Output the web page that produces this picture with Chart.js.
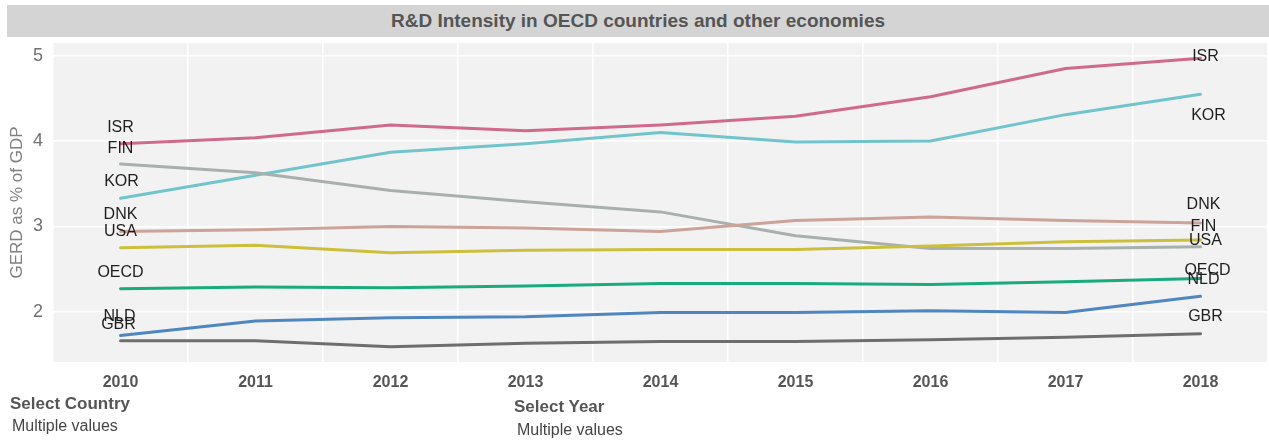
<!DOCTYPE html>
<html>
<head>
<meta charset="utf-8">
<script src="https://cdn.jsdelivr.net/npm/chart.js@4"></script>
<style>
  html, body { margin: 0; padding: 0; background: #ffffff; }
  #wrap { position: relative; width: 1269px; height: 441px; overflow: hidden; font-family: "Liberation Sans", Arial, sans-serif; }
  #titleband { position: absolute; left: 7px; top: 5px; width: 1262px; height: 32px; background: #d4d4d4; }
  #title { position: absolute; left: 0; width: 1276px; top: 5px; height: 32px; line-height: 32px; text-align: center; font-weight: bold; font-size: 19px; color: #555555; white-space: nowrap; }
  #chartbox { position: absolute; left: 0; top: 0; width: 1269px; height: 441px; }
  .ftitle { position: absolute; font-weight: bold; font-size: 17px; color: #555555; white-space: nowrap; }
  .fval { position: absolute; font-size: 16px; color: #444444; white-space: nowrap; }
</style>
</head>
<body>
<div id="wrap">
  <div id="titleband"></div>
  <div id="title">R&amp;D Intensity in OECD countries and other economies</div>
  <div id="chartbox"><canvas id="c"></canvas></div>
  <div class="ftitle" style="left:10px; top:394px;">Select Country</div>
  <div class="fval" style="left:12px; top:417px;">Multiple values</div>
  <div class="ftitle" style="left:514px; top:397px;">Select Year</div>
  <div class="fval" style="left:517px; top:421px;">Multiple values</div>
</div>
<script>
// ---- data ----
const years = ['2010', '2011', '2012', '2013', '2014', '2015', '2016', '2017', '2018'];
const yTicks = [2, 3, 4, 5];
const ISR  = [3.97, 4.04, 4.19, 4.12, 4.19, 4.29, 4.52, 4.85, 4.97];
const KOR  = [3.33, 3.60, 3.87, 3.97, 4.10, 3.99, 4.00, 4.31, 4.55];
const FIN  = [3.73, 3.63, 3.42, 3.29, 3.17, 2.89, 2.74, 2.74, 2.76];
const DNK  = [2.94, 2.96, 3.00, 2.98, 2.94, 3.07, 3.11, 3.07, 3.04];
const USA  = [2.75, 2.78, 2.69, 2.72, 2.73, 2.73, 2.77, 2.82, 2.84];
const OECD = [2.27, 2.29, 2.28, 2.30, 2.33, 2.33, 2.32, 2.35, 2.39];
const NLD  = [1.72, 1.89, 1.93, 1.94, 1.99, 1.99, 2.01, 1.99, 2.18];
const GBR  = [1.66, 1.66, 1.59, 1.63, 1.65, 1.65, 1.67, 1.70, 1.74];

const seriesNames = ['GBR', 'NLD', 'OECD', 'USA', 'DNK', 'FIN', 'KOR', 'ISR'];
const seriesData  = [GBR, NLD, OECD, USA, DNK, FIN, KOR, ISR];

// ---- styles ----
const colors = {
  ISR: '#cf6a8b', KOR: '#72c4cc', FIN: '#a7b0ac', DNK: '#cba399',
  USA: '#cbbf3c', OECD: '#19aa7e', NLD: '#4f86bf', GBR: '#6e6e6e'
};
// label placement relative to first / last point (pixels)
const startOffsets = { ISR: [0, -16], FIN: [0, -16], KOR: [1, -17], DNK: [0, -17], USA: [0, -16], OECD: [0, -16], NLD: [-1, -19], GBR: [-2, -16] };
const endOffsets   = { ISR: [5, -2], KOR: [8, 21], DNK: [3, -18], FIN: [3, -20], USA: [5, 1], OECD: [7, -8], NLD: [3, -17], GBR: [5, -17] };

const bgPlugin = {
  id: 'plotBg',
  beforeDraw(chart) {
    const a = chart.chartArea, ctx = chart.ctx;
    ctx.save();
    ctx.fillStyle = '#f2f2f2';
    ctx.fillRect(a.left, a.top, a.right - a.left, a.bottom - a.top);
    ctx.restore();
  }
};

const labelPlugin = {
  id: 'endLabels',
  afterDatasetsDraw(chart) {
    const ctx = chart.ctx;
    ctx.save();
    ctx.font = '16px "Liberation Sans", Arial, sans-serif';
    ctx.fillStyle = '#1e1e1e';
    ctx.textAlign = 'center';
    ctx.textBaseline = 'middle';
    chart.data.datasets.forEach((ds, i) => {
      const meta = chart.getDatasetMeta(i);
      const first = meta.data[0], last = meta.data[meta.data.length - 1];
      const so = startOffsets[ds.label], eo = endOffsets[ds.label];
      ctx.fillText(ds.label, first.x + so[0], first.y + so[1]);
      ctx.fillText(ds.label, last.x + eo[0], last.y + eo[1]);
    });
    ctx.restore();
  }
};

new Chart(document.getElementById('c'), {
  type: 'line',
  data: {
    labels: years,
    datasets: seriesNames.map((n, i) => ({
      label: n,
      data: seriesData[i],
      borderColor: colors[n],
      backgroundColor: colors[n],
      borderWidth: 3,
      pointRadius: 0,
      tension: 0,
      borderCapStyle: 'round',
      borderJoinStyle: 'round'
    }))
  },
  options: {
    responsive: true,
    maintainAspectRatio: false,
    animation: false,
    layout: { padding: { top: 43, right: 1, bottom: 49, left: 0 } },
    plugins: { legend: { display: false }, tooltip: { enabled: false }, title: { display: false } },
    scales: {
      x: {
        offset: true,
        grid: { offset: true, color: '#ffffff', lineWidth: 1.5, drawTicks: false },
        border: { display: false },
        ticks: { color: '#555555', font: { family: '"Liberation Sans", Arial, sans-serif', size: 16, weight: 'bold' }, padding: 11, maxRotation: 0 },
        afterFit(s) { s.height = 30; }
      },
      y: {
        min: 1.41,
        max: 5.15,
        afterBuildTicks(s) { s.ticks = yTicks.map(v => ({ value: v })); },
        grid: { color: '#ffffff', lineWidth: 1.5, drawTicks: false },
        border: { display: false },
        ticks: { color: '#707070', font: { family: '"Liberation Sans", Arial, sans-serif', size: 18 }, padding: 10 },
        title: { display: true, text: 'GERD as % of GDP', color: '#808080', font: { family: '"Liberation Sans", Arial, sans-serif', size: 17 }, padding: { top: 7, bottom: 0 } },
        afterFit(s) { s.width = 53; }
      }
    }
  },
  plugins: [bgPlugin, labelPlugin]
});
</script>
</body>
</html>
